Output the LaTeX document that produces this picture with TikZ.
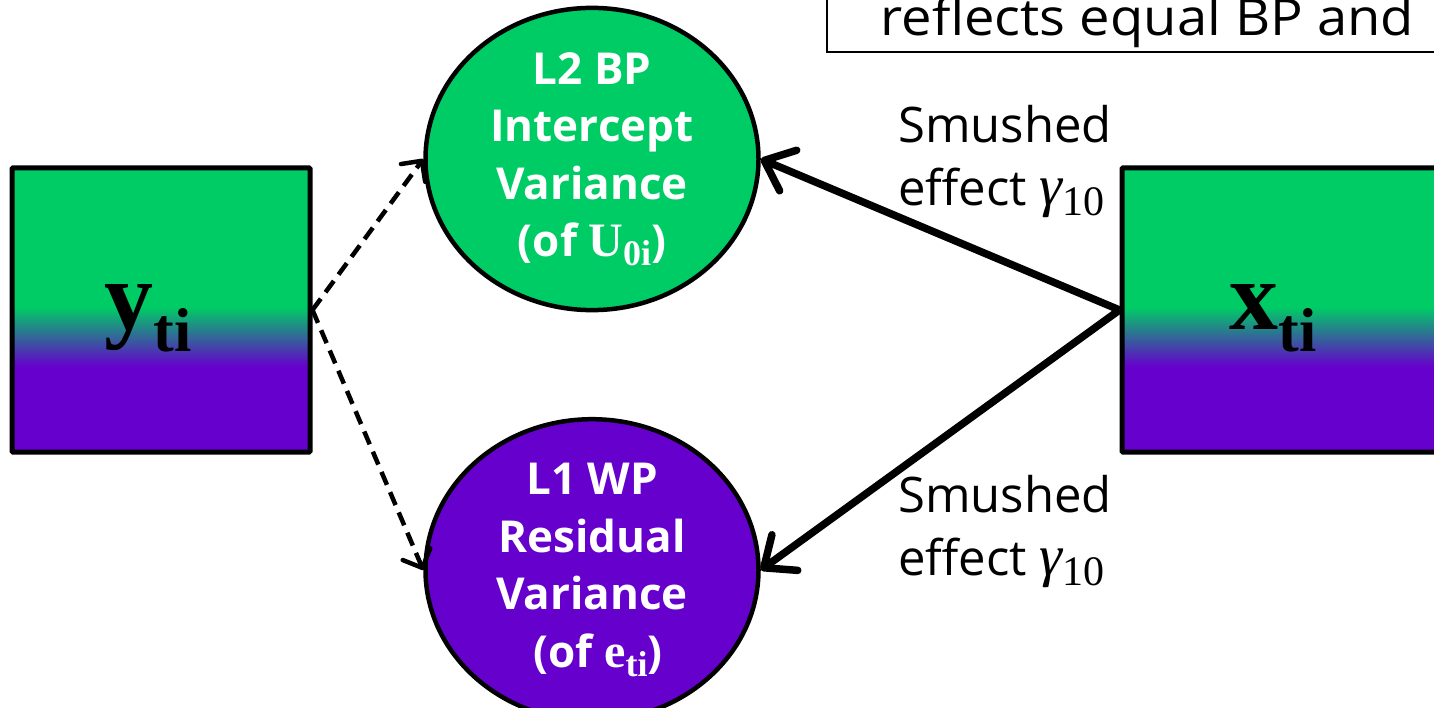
\documentclass[tikz,border=0pt]{standalone}
\usepackage{fontspec}
\setmainfont{Open Sans}
\newfontfamily\seriff{Liberation Serif}
\usetikzlibrary{arrows.meta,shapes.geometric}
\definecolor{grn}{HTML}{00CC66}
\definecolor{purp}{HTML}{6600CC}
\pgfdeclareverticalshading{gpshade}{100bp}{color(0bp)=(purp); color(40bp)=(purp); color(50.5bp)=(grn); color(100bp)=(grn)}
\newcommand{\gammaten}{{\seriff\itshape\fontsize{58}{58}\selectfont γ}\raisebox{-10pt}{\seriff\fontsize{42}{42}\selectfont 10}}
\begin{document}
\begin{tikzpicture}[x=1pt,y=-1pt,
  varbox/.style={draw=black, line width=5pt, shading=gpshade, minimum height=284pt, inner sep=0pt, rounded corners=1pt},
  ell/.style={ellipse, draw=black, line width=4.5pt, minimum width=333pt, minimum height=280pt, inner sep=0pt, text=white, font=\bfseries\fontsize{44}{57.5}\selectfont, align=center},
  lbl/.style={inner sep=0pt, align=left, font=\fontsize{49}{63}\selectfont},
  notebox/.style={draw=black, line width=1.5pt, inner xsep=54pt, inner ysep=4pt, text depth=12pt, text height=90pt, font=\fontsize{51}{63}\selectfont},
  solidarrow/.style={line width=7.5pt, -{Straight Barb[length=26pt,width=44pt,round]}},
  dasharrow/.style={line width=4.5pt, dash pattern=on 14pt off 8pt, -{Straight Barb[length=15pt,width=30pt,round]}},
  varlabel/.style={font=\seriff\bfseries\fontsize{98}{98}\selectfont}
]
\useasboundingbox (0,0) rectangle (1434,708);
\clip (0,0) rectangle (1434,708);

\node[varbox, minimum width=298pt] (y) at (161,310) {};
\node[varlabel] (ylab) at (148,318) {y\raisebox{-22pt}{\fontsize{62}{62}\selectfont ti}};

\node[varbox, minimum width=318pt] (x) at (1281,310) {};
\node[varlabel] (xlab) at (1273,318) {x\raisebox{-22pt}{\fontsize{62}{62}\selectfont ti}};

\node[ell, fill=grn] (top) at (592,159) {L2 BP\\Intercept\\Variance\\(of {\seriff\fontsize{48}{48}\selectfont U\raisebox{-9pt}{\fontsize{36}{36}\selectfont 0i}})};
\node[ell, fill=purp] (bot) at (592,570) {L1 WP\\Residual\\Variance\\\hspace{12pt}(of {\seriff\fontsize{48}{48}\selectfont e\raisebox{-9pt}{\fontsize{36}{36}\selectfont ti}})};

\node[notebox, anchor=base west] (note) at (826,36) {\scalebox{1.065}[1]{reflects equal BP and}};

\node[lbl, anchor=north west] (l1) at (898,105) {Smushed\\effect \gammaten};
\node[lbl, anchor=north west] (l2) at (898,475) {Smushed\\effect \gammaten};

\draw[solidarrow] (x.west) -- (top.east);
\draw[solidarrow] (x.west) -- (bot.east);
\draw[dasharrow] (y.east) -- (top.west);
\draw[dasharrow] (y.east) -- (bot.west);
\end{tikzpicture}
\end{document}
